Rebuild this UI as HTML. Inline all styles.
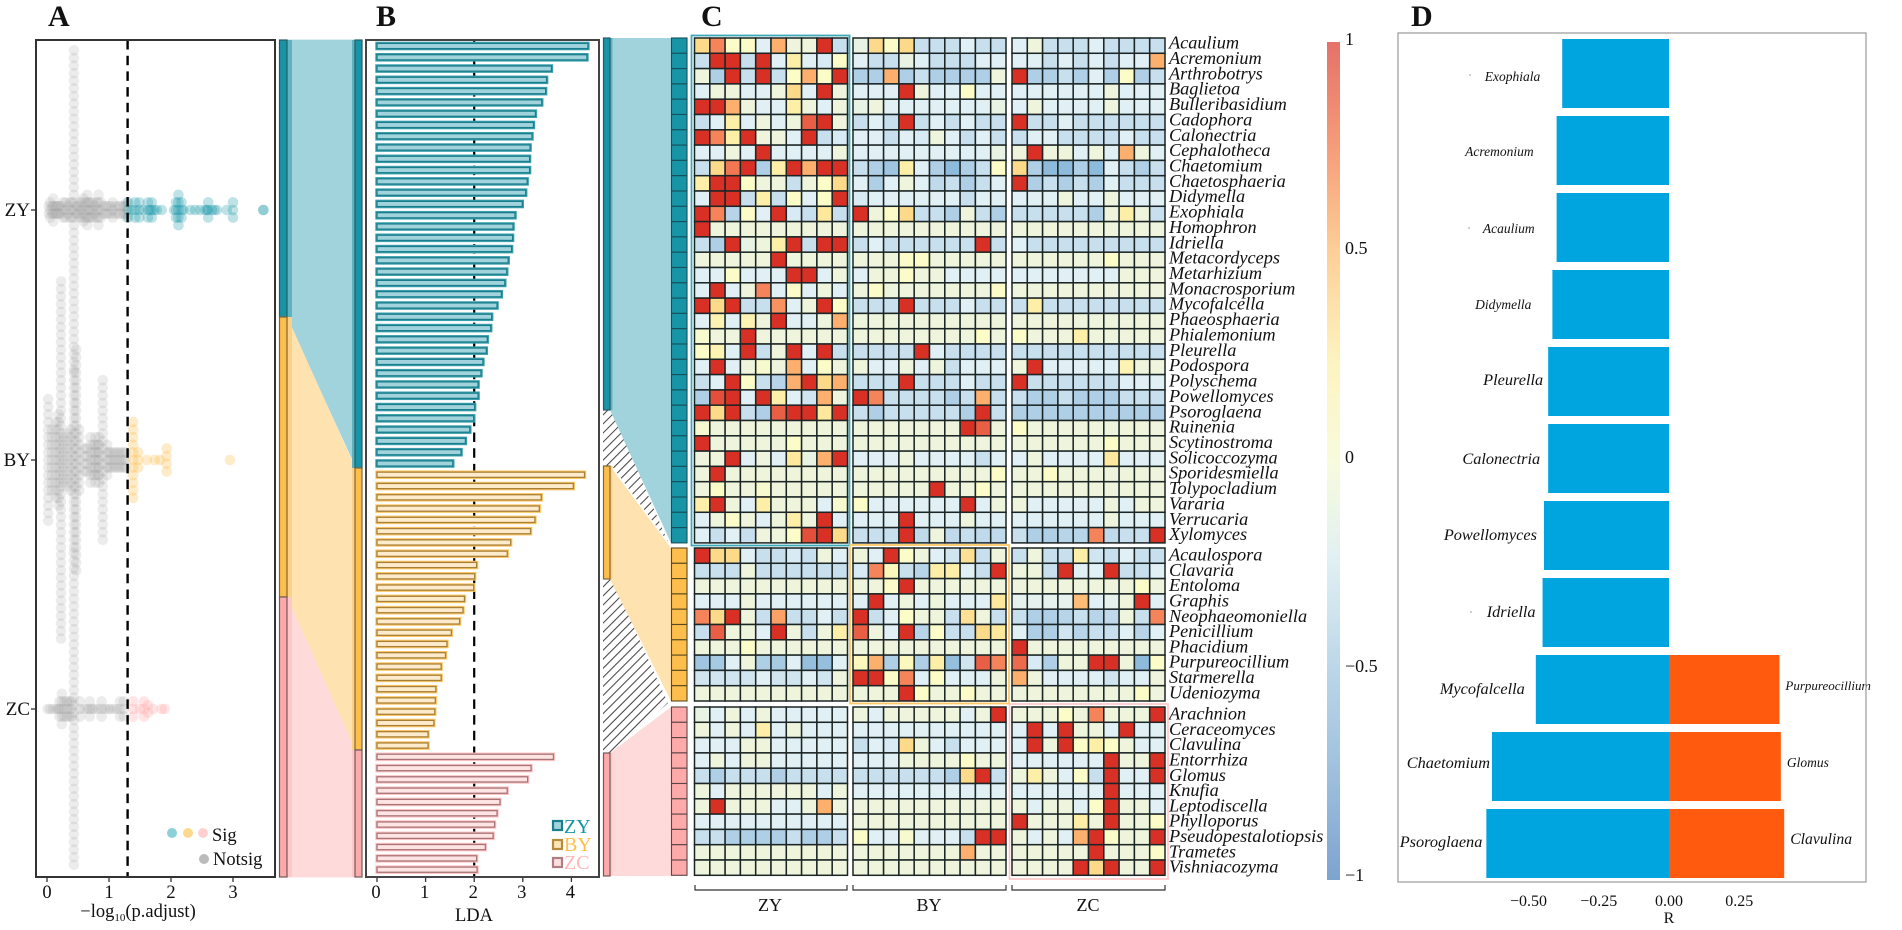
<!DOCTYPE html>
<html lang="en">
<head>
<meta charset="utf-8">
<title>Differential taxa panels</title>
<style>
html,body{margin:0;padding:0;background:#fff;width:1902px;height:930px;overflow:hidden}
svg{display:block;font-family:"Liberation Serif",serif}
text{fill:#111}
</style>
</head>
<body>
<svg id="chart" xmlns="http://www.w3.org/2000/svg" width="1902" height="930" viewBox="0 0 1902 930">
<defs>
<pattern id="hatch" width="6.4" height="6.4" patternUnits="userSpaceOnUse" patternTransform="rotate(-45)">
<line x1="0" y1="3" x2="6.4" y2="3" stroke="#3c3c3c" stroke-width="1"/>
</pattern>
<linearGradient id="colorbar-gradient" x1="0" y1="0" x2="0" y2="1">
<stop offset="0" stop-color="#E5716A"/>
<stop offset=".12" stop-color="#F59A78"/>
<stop offset=".25" stop-color="#FDCF96"/>
<stop offset=".38" stop-color="#FDF3C0"/>
<stop offset=".5" stop-color="#F8FBDC"/>
<stop offset=".62" stop-color="#E0F0F3"/>
<stop offset=".75" stop-color="#BBD6E9"/>
<stop offset=".88" stop-color="#9DBEDC"/>
<stop offset="1" stop-color="#7DA3D0"/>
</linearGradient>
</defs>

<text x="48" y="26" font-size="30" font-weight="bold">A</text>
<text x="376" y="26" font-size="30" font-weight="bold">B</text>
<text x="701" y="26" font-size="30" font-weight="bold">C</text>
<text x="1411" y="26" font-size="30" font-weight="bold">D</text>

<g>
<polygon points="287,40 355,40 355,465 287,317" fill="#A1D3DC" stroke="#A1D3DC" stroke-width=".7"/>
<polygon points="287,317 355,468 355,750 287,597" fill="#FEE2B0" stroke="#FEE2B0" stroke-width=".7"/>
<polygon points="287,597 355,750 355,877 287,877" fill="#FFDADA" stroke="#FFDADA" stroke-width=".7"/>
<rect x="287" y="40" width="5" height="277" fill="#5FB3C0"/>
<rect x="287" y="317" width="5" height="280" fill="#FDD088"/>
<rect x="287" y="597" width="5" height="280" fill="#FFC8C8"/>
<rect x="352" y="40" width="3" height="428" fill="#5FB3C0"/>
<rect x="352" y="468" width="3" height="282" fill="#FDD088"/>
<rect x="352" y="750" width="3" height="127" fill="#FFC8C8"/>
<rect x="279.5" y="40" width="7.5" height="277" fill="#1795A6" stroke="#2a5a63" stroke-width="1.2"/>
<rect x="279.5" y="317" width="7.5" height="280" fill="#FDBE4B" stroke="#7d6632" stroke-width="1.2"/>
<rect x="279.5" y="597" width="7.5" height="280" fill="#FFAAAA" stroke="#6e5a5a" stroke-width="1.2"/>
<rect x="355" y="40" width="7" height="428" fill="#1795A6" stroke="#2a5a63" stroke-width="1.2"/>
<rect x="355" y="468" width="7" height="282" fill="#FDBE4B" stroke="#7d6632" stroke-width="1.2"/>
<rect x="355" y="750" width="7" height="127" fill="#FFAAAA" stroke="#6e5a5a" stroke-width="1.2"/>
</g>

<g>
<polygon points="603,410 612,410 668,542 612,466 603,466" fill="url(#hatch)"/>
<polygon points="603,579 612,579 668,703 612,753 603,753" fill="url(#hatch)"/>
<polygon points="610,38 671,38 671,543 610,410" fill="#A1D3DC"/>
<polygon points="610,466 671,548 671,701 610,579" fill="#FEE2B0"/>
<polygon points="610,753 671,707 671,876 610,876" fill="#FFDADA"/>
<rect x="610" y="38" width="2.5" height="372" fill="#5FB3C0"/>
<rect x="610" y="466" width="2.5" height="113" fill="#FDD088"/>
<rect x="610" y="753" width="2.5" height="123" fill="#FFC8C8"/>
<rect x="603.5" y="38" width="6.5" height="372" fill="#1795A6" stroke="#2a5a63" stroke-width="1.2"/>
<rect x="603.5" y="466" width="6.5" height="113" fill="#FDBE4B" stroke="#7d6632" stroke-width="1.2"/>
<rect x="603.5" y="753" width="6.5" height="123" fill="#FFAAAA" stroke="#6e5a5a" stroke-width="1.2"/>
</g>

<g id="panel-a"></g>
<g id="panel-b"></g>
<g id="panel-c"></g>
<g id="panel-d"></g>

<rect x="36" y="40" width="239" height="837" fill="none" stroke="#333" stroke-width="2"/>
<rect x="366" y="40" width="233" height="837" fill="none" stroke="#444" stroke-width="2"/>

<g>
<circle cx="172" cy="833" r="5" fill="#8ED0D8"/>
<circle cx="188" cy="833" r="5" fill="#FDD990"/>
<circle cx="203" cy="833" r="5" fill="#FFD0D0"/>
<text x="212" y="841" font-size="18.5">Sig</text>
<circle cx="204" cy="859" r="5" fill="#BBBBBB"/>
<text x="213" y="865" font-size="18.5">Notsig</text>
</g>
<text x="138" y="917" font-size="18.5" text-anchor="middle">−log<tspan font-size="11" dy="4">10</tspan><tspan dy="-4">(p.adjust)</tspan></text>

<g>
<rect x="553" y="821" width="9" height="9" fill="#A1D3DC" stroke="#1B7E8C" stroke-width="2.2"/>
<text x="564" y="833" font-size="20" style="fill:#1795A6">ZY</text>
<rect x="553" y="840" width="9" height="9" fill="#FEE5B8" stroke="#B58B3C" stroke-width="2.2"/>
<text x="564" y="851" font-size="20" style="fill:#FDBE4B">BY</text>
<rect x="553" y="858" width="9" height="9" fill="#FFE0E0" stroke="#B07F84" stroke-width="2.2"/>
<text x="564" y="869" font-size="20" style="fill:#FFB8B8">ZC</text>
</g>
<text x="474" y="921" font-size="18.5" text-anchor="middle">LDA</text>

<g>
<path d="M695 885V890H847V885" fill="none" stroke="#333" stroke-width="1.2"/>
<path d="M853 885V890H1006V885" fill="none" stroke="#333" stroke-width="1.2"/>
<path d="M1012 885V890H1165V885" fill="none" stroke="#333" stroke-width="1.2"/>
<text x="770" y="911" font-size="18" text-anchor="middle">ZY</text>
<text x="929" y="911" font-size="18" text-anchor="middle">BY</text>
<text x="1088" y="911" font-size="18" text-anchor="middle">ZC</text>
</g>

<rect x="1327" y="42" width="13" height="838" fill="url(#colorbar-gradient)"/>

<rect x="1398" y="33" width="468" height="849" fill="none" stroke="#a0a0a0" stroke-width="1.3"/>
<circle cx="1470" cy="75" r=".7" fill="#888"/>
<circle cx="1469" cy="228" r=".7" fill="#888"/>
<circle cx="1471" cy="612" r=".7" fill="#888"/>
<text x="1669" y="923" font-size="16" text-anchor="middle">R</text>
</svg>

<script>
// ---------- Panel A data: -log10(p.adjust) values and stacked point counts ----------
const groupLabelsA = ["ZY", "BY", "ZC"];
const xTicksA = [0, 1, 2, 3];
const thresholdA = [1.3];
const zyNotsigValues = [.03,.05,.08,.1,.13,.15,.18,.2,.23,.26,.3,.34,.37,.4,.435,.47,.5,.53,.56,.59,.62,.65,.68,.71,.74,.77,.8,.83,.87,.91,.95,.99,1.03,1.06,1.1,1.15,1.18,1.23,1.26,1.28];
const zyNotsigCounts = [2,3,2,4,2,2,2,2,2,3,3,2,3,3,43,2,2,3,3,4,3,5,3,3,3,2,3,5,3,2,2,2,2,3,2,2,2,2,2,3];
const zySigValues = [1.31,1.38,1.42,1.49,1.55,1.63,1.66,1.69,1.73,1.77,1.85,2.05,2.08,2.12,2.17,2.2,2.31,2.39,2.47,2.55,2.58,2.6,2.66,2.7,2.74,2.9,3.0,3.49,3.49];
const zySigCounts = [3,1,3,3,1,3,1,3,1,1,1,1,3,5,3,1,1,1,1,1,1,3,1,1,1,1,3,1,1];
const byNotsigValues = [.02,.08,.14,.19,.226,.27,.33,.38,.435,.47,.52,.6,.65,.7,.75,.78,.82,.84,.9,.97,1.0,1.04,1.08,1.12,1.16,1.2,1.24,1.27];
const byNotsigCounts = [17,9,11,13,48,7,8,9,24,30,9,4,4,7,5,7,5,7,22,5,3,3,3,3,3,3,3,3];
const bySigValues = [1.39,1.47,1.61,1.74,1.82,1.93,2.95];
const bySigCounts = [11,3,1,1,1,4,1];
const zcNotsigValues = [.01,.05,.1,.15,.18,.2,.24,.28,.32,.36,.4,.435,.53,.6,.65,.69,.73,.77,.82,.88,.93,.98,1.02,1.08,1.13,1.18,1.24];
const zcNotsigCounts = [1,1,1,1,1,3,5,3,3,3,3,42,3,1,1,3,1,1,1,3,1,1,1,1,1,3,3];
const zcSigValues = [1.39,1.5,1.565,1.63,1.71,1.85,1.9];
const zcSigCounts = [3,1,3,2,1,1,1];

// ---------- Panel B data: LDA scores ----------
const xTicksB = [0, 1, 2, 3, 4];
const thresholdB = [2];
const ldaZY = [4.34,4.32,3.59,3.49,3.47,3.39,3.26,3.22,3.19,3.15,3.14,3.14,3.09,3.06,2.99,2.84,2.80,2.79,2.77,2.70,2.67,2.63,2.56,2.47,2.36,2.34,2.27,2.25,2.18,2.14,2.08,2.08,2.01,1.99,1.91,1.82,1.73,1.56];
const ldaBY = [4.27,4.04,3.38,3.34,3.25,3.16,2.75,2.68,2.05,2.01,1.99,1.80,1.77,1.70,1.53,1.44,1.41,1.32,1.32,1.21,1.20,1.19,1.17,1.05,1.05];
const ldaZC = [3.63,3.17,3.10,2.68,2.53,2.47,2.42,2.39,2.23,2.05,2.06];

// ---------- Panel C data: taxa and correlation values (columns ZY×10, BY×10, ZC×10) ----------
const taxaZY = ["Acaulium","Acremonium","Arthrobotrys","Baglietoa","Bulleribasidium","Cadophora","Calonectria","Cephalotheca","Chaetomium","Chaetosphaeria","Didymella","Exophiala","Homophron","Idriella","Metacordyceps","Metarhizium","Monacrosporium","Mycofalcella","Phaeosphaeria","Phialemonium","Pleurella","Podospora","Polyschema","Powellomyces","Psoroglaena","Ruinenia","Scytinostroma","Solicoccozyma","Sporidesmiella","Tolypocladium","Vararia","Verrucaria","Xylomyces"];
const taxaBY = ["Acaulospora","Clavaria","Entoloma","Graphis","Neophaeomoniella","Penicillium","Phacidium","Purpureocillium","Starmerella","Udeniozyma"];
const taxaZC = ["Arachnion","Ceraceomyces","Clavulina","Entorrhiza","Glomus","Knufia","Leptodiscella","Phylloporus","Pseudopestalotiopsis","Trametes","Vishniacozyma"];
const colorbarTicks = [1, .5, 0, -.5, -1];
const corrZY = [
[.4,.7,.1,.1,-.2,.55,-.05,-.05,1,-.35,-.1,.4,.1,.4,-.35,-.35,-.35,-.2,-.35,-.35,-.2,-.05,-.35,-.35,-.35,-.2,-.35,-.35,-.35,-.35],
[-.35,1,1,-.35,1,-.2,.25,-.2,-.25,.1,-.2,-.35,-.35,-.1,-.2,-.35,-.35,-.35,-.2,-.2,-.2,-.2,-.35,-.2,-.35,-.2,-.35,-.2,-.2,.55],
[-.05,-.5,1,-.35,1,-.35,.1,.55,.1,1,-.5,-.5,.55,-.5,-.35,-.5,-.5,-.5,-.5,-.05,1,-.5,-.5,-.35,-.5,-.2,-.5,.1,-.5,-.35],
[-.2,-.05,-.05,-.2,-.2,-.05,.4,-.2,1,-.05,-.2,-.2,-.2,1,-.05,-.2,-.2,.1,-.2,-.2,-.2,-.2,-.2,-.2,-.2,-.2,-.05,-.2,-.2,-.2],
[1,1,.55,-.05,-.2,-.2,.25,-.05,-.2,-.05,-.1,-.05,-.2,-.2,-.2,-.2,-.2,-.2,-.2,-.1,-.2,-.05,-.2,-.2,-.2,-.2,-.05,-.2,-.2,-.2],
[-.35,-.2,.25,-.2,-.05,-.2,-.05,.85,1,-.05,-.35,-.2,-.35,1,-.35,-.2,-.35,-.2,-.35,-.35,1,-.35,-.35,-.2,-.35,-.35,-.35,-.35,-.35,-.35],
[1,.7,.25,1,-.05,-.05,-.2,1,-.35,-.25,-.2,-.2,-.35,-.2,-.25,-.05,-.2,-.35,-.2,-.35,-.35,-.2,-.2,-.35,-.35,-.35,-.35,-.2,-.35,-.35],
[-.2,-.2,-.05,-.2,1,-.2,-.2,-.2,-.2,-.05,-.2,-.2,-.2,-.2,-.2,-.2,-.2,-.2,-.2,-.1,-.05,1,-.05,-.05,-.2,-.05,-.2,.55,-.05,-.2],
[-.35,.4,.75,1,-.5,.25,1,.55,1,1,-.35,-.5,-.6,.25,-.2,-.5,-.7,-.5,-.35,.1,.4,-.5,-.7,-.7,-.5,-.7,-.2,-.35,-.5,-.35],
[.25,1,1,.1,-.05,-.05,-.35,-.05,.1,.4,-.2,-.5,-.2,-.05,-.2,-.4,-.35,-.5,-.35,-.2,1,-.5,-.35,-.5,-.35,-.5,-.2,-.35,-.35,-.35],
[-.2,1,1,-.35,.25,-.35,.1,-.2,.1,1,-.25,-.2,-.2,-.2,-.2,-.2,-.2,-.35,-.2,-.2,-.2,-.2,-.2,-.05,-.2,-.2,-.05,-.2,-.2,-.2],
[1,.7,-.45,.1,-.2,1,-.25,-.35,.3,-.35,1,-.05,.1,.4,-.35,-.35,-.5,-.05,-.35,-.5,-.35,-.35,-.35,-.35,-.35,-.5,-.05,.25,-.05,-.35],
[1,-.05,-.05,-.05,-.05,-.05,-.05,-.05,-.05,-.05,-.05,-.05,-.05,-.05,-.05,-.05,-.05,-.05,-.05,-.05,-.05,-.05,-.05,-.05,-.05,-.05,-.05,-.05,-.05,-.05],
[-.35,-.5,1,-.1,-.05,.25,1,-.35,1,1,-.35,-.2,-.35,-.35,-.35,-.35,-.35,-.35,1,-.35,-.2,-.35,-.35,-.35,-.35,-.35,-.35,-.35,-.35,-.35],
[-.05,-.05,-.05,-.05,-.05,1,-.05,-.05,-.05,-.05,-.05,-.05,-.05,.1,.1,-.05,-.05,-.05,-.05,-.05,-.05,-.05,-.05,-.05,-.05,-.05,.1,-.05,-.05,-.05],
[-.2,-.2,.1,-.2,-.2,-.2,1,1,-.2,-.05,-.2,-.05,-.05,.1,-.05,-.05,-.2,-.2,-.2,-.2,-.2,-.2,-.2,-.2,-.2,-.2,-.2,-.05,-.05,-.05],
[-.2,1,-.2,-.05,.7,-.2,.1,-.2,-.05,-.2,-.05,.1,-.05,-.05,-.05,-.05,-.05,-.05,-.05,.1,-.05,-.05,-.05,-.05,-.05,-.05,-.05,-.05,-.05,-.05],
[1,.4,1,-.35,-.35,.65,-.2,-.05,1,.1,-.35,-.35,-.35,1,-.35,-.35,-.35,-.2,-.35,-.35,-.35,.25,-.35,-.35,-.35,-.35,-.35,-.35,-.35,-.35],
[-.2,.2,-.2,.2,-.05,1,-.2,-.2,-.05,.55,-.05,-.05,-.05,-.05,-.05,-.05,-.05,-.05,-.05,-.05,-.05,-.05,-.05,-.05,-.05,-.05,-.05,-.05,-.05,-.05],
[.05,-.05,-.05,1,-.05,-.05,-.05,-.05,-.05,-.05,-.05,-.05,-.05,-.05,-.05,-.05,-.05,-.05,.1,-.05,.1,-.05,-.05,-.05,.25,-.05,-.05,-.05,-.05,-.05],
[.1,.2,-.2,1,-.35,-.05,1,-.2,1,-.35,-.35,-.35,-.35,-.35,1,-.2,-.35,-.35,-.35,-.35,-.35,-.35,-.35,-.35,-.35,-.35,-.35,-.35,-.35,-.35],
[-.2,1,-.2,-.05,.05,-.05,.55,-.2,.1,-.05,-.05,-.2,-.2,-.05,-.2,-.05,-.35,-.2,-.2,-.2,-.05,1,-.2,-.2,-.2,-.2,-.2,.2,-.05,-.05],
[-.35,-.2,1,.1,-.35,-.45,.55,1,.4,.55,-.35,-.35,-.35,1,-.35,-.35,-.35,-.2,-.35,-.35,1,-.35,-.35,-.35,-.35,-.35,-.35,-.2,-.2,-.2],
[-.5,.9,1,-.2,1,.25,-.2,-.3,.55,-.05,1,.7,-.35,-.35,-.35,-.35,-.5,-.35,.55,-.35,-.35,-.5,-.5,-.35,-.5,-.5,-.5,-.35,-.35,-.35],
[1,.4,1,-.35,-.5,.85,1,1,.3,1,-.35,-.5,-.35,-.35,-.35,-.35,-.35,-.5,1,-.35,-.5,-.5,-.5,-.5,-.5,-.5,-.5,-.5,-.5,-.5],
[.05,-.05,-.05,-.05,-.05,-.05,-.05,-.05,-.05,-.05,-.05,-.05,-.05,-.05,-.05,-.05,-.05,1,.85,-.05,.1,-.05,-.05,-.05,-.05,-.05,-.05,-.05,-.05,-.05],
[1,-.05,-.05,-.05,-.05,-.05,.1,-.05,-.05,-.05,-.05,-.05,-.05,-.05,-.05,-.05,-.05,-.05,-.05,-.05,-.05,-.05,-.05,-.05,-.05,-.05,.1,-.05,-.05,-.05],
[-.05,-.05,1,-.2,-.05,-.2,.3,-.1,.55,1,-.2,-.2,-.2,-.05,-.2,-.2,-.2,-.2,-.35,-.2,-.2,-.05,-.2,-.2,-.2,-.2,.3,-.2,-.2,-.2],
[-.05,1,-.05,-.05,-.05,-.05,-.05,-.05,-.05,-.05,-.05,-.05,-.05,-.05,-.05,-.05,-.05,-.05,-.05,.1,-.05,-.05,.1,-.05,-.05,-.05,-.05,-.05,-.05,-.05],
[-.05,.1,-.05,-.05,.05,-.05,-.05,-.05,-.05,-.05,-.05,-.05,-.05,-.05,-.05,1,-.05,-.05,.1,-.05,-.05,-.05,-.05,-.05,-.05,-.05,-.05,-.05,-.05,-.05],
[.25,1,-.05,-.2,.25,-.05,-.05,-.05,-.2,.05,.1,-.2,-.2,-.2,-.2,-.2,-.2,1,-.2,-.05,-.05,-.2,-.2,-.2,-.2,-.2,-.05,-.2,-.05,-.05],
[-.2,-.05,.1,-.05,-.2,-.05,.25,-.05,1,-.2,-.2,-.2,-.2,1,-.2,-.2,-.2,-.05,-.2,-.2,-.2,-.2,-.2,-.2,-.2,-.2,-.05,-.2,-.2,-.2],
[-.2,-.35,-.2,-.35,-.05,-.05,.1,.9,1,.4,-.35,-.35,-.35,1,-.4,-.05,-.4,-.35,-.4,-.4,-.35,-.5,-.5,-.45,-.45,.7,-.4,-.35,-.35,1]
];
const corrBY = [
[1,.4,.4,-.2,-.35,-.35,-.25,-.35,-.05,-.2,-.05,-.2,1,.1,-.05,-.2,-.3,.35,-.35,-.05,-.35,-.05,-.35,-.35,.25,-.3,-.35,-.2,-.35,-.35],
[-.35,-.35,-.35,-.05,-.35,-.35,-.35,-.35,-.35,-.35,-.25,.7,.15,-.35,-.45,.25,.25,-.2,-.35,1,-.05,-.05,-.35,1,-.2,-.2,1,-.35,-.35,-.2],
[-.05,-.05,-.05,-.05,-.05,-.05,-.05,-.05,-.05,-.05,-.05,-.05,.1,1,-.05,-.05,-.05,-.05,-.05,-.05,-.05,-.05,-.05,-.05,-.05,-.05,-.05,-.05,.1,-.05],
[-.2,-.2,-.2,-.05,-.2,-.2,-.2,-.2,-.2,-.2,-.2,1,-.2,-.05,-.2,-.05,-.2,-.2,-.2,.3,-.15,-.15,-.15,-.15,.5,-.2,-.15,-.05,1,-.2],
[.7,.4,1,-.05,-.35,.6,-.35,-.35,-.2,-.35,1,-.35,-.2,.1,-.05,-.05,-.35,.35,-.05,-.35,-.35,-.5,-.5,-.45,-.35,-.45,-.4,-.05,-.35,.7],
[-.35,.85,-.05,-.05,-.2,1,-.05,-.35,-.05,.25,.85,-.05,-.2,1,-.45,.1,-.35,-.35,.4,.3,-.2,-.5,-.5,-.3,-.45,-.35,-.35,-.2,-.45,-.2],
[-.05,-.05,-.05,.1,-.05,-.05,-.05,-.05,-.05,-.05,-.05,-.05,-.05,-.05,-.05,-.05,-.05,-.05,-.05,-.05,1,-.05,-.05,-.05,-.05,-.05,-.05,-.05,-.05,-.05],
[-.6,-.55,-.2,-.05,-.5,-.55,-.2,-.65,-.65,-.2,.15,.55,-.5,.15,-.5,.25,-.65,-.3,.85,.7,.8,-.25,-.5,-.05,-.05,1,1,-.05,-.7,.1],
[-.3,-.3,-.3,-.3,-.2,-.3,-.3,-.2,-.3,-.05,1,1,.1,.7,-.2,.1,-.2,-.2,-.2,-.05,.55,-.05,-.2,-.2,-.2,-.2,-.3,-.2,-.2,-.05],
[-.05,-.05,-.05,-.05,-.05,-.05,-.05,-.05,-.05,-.05,-.05,-.05,-.05,1,.1,-.05,-.05,.1,-.05,-.05,-.05,-.05,-.05,-.05,-.05,-.05,-.05,-.05,.1,-.05]
];
const corrZC = [
[-.1,-.2,-.05,-.2,-.05,-.2,-.2,-.2,-.2,-.2,-.05,-.2,-.05,-.05,-.05,-.05,-.05,-.2,-.05,1,-.05,-.05,-.05,.1,-.05,.7,-.05,-.05,-.05,1],
[-.05,-.2,-.05,-.2,.25,-.2,-.05,-.2,-.2,-.2,-.2,-.2,-.2,-.2,-.2,-.2,-.2,-.2,-.2,-.2,-.2,1,-.2,1,-.05,-.05,-.2,1,-.2,-.2],
[-.2,-.2,-.2,-.05,-.05,-.2,-.2,-.2,-.2,-.2,-.35,-.2,-.25,.4,-.05,-.2,-.35,-.2,-.2,-.2,-.2,1,-.05,1,.1,.25,.1,-.05,-.2,-.2],
[-.2,-.05,-.2,-.05,-.05,-.2,-.2,-.2,-.2,-.2,-.2,-.2,-.2,-.05,-.05,-.05,-.05,.1,-.05,-.05,-.2,-.2,-.2,-.2,-.2,-.2,1,-.05,-.05,1],
[-.35,-.5,-.35,-.35,-.35,-.5,-.35,-.35,-.35,-.35,-.35,-.35,-.35,-.35,-.35,-.35,-.5,.4,1,-.35,-.05,.25,-.05,-.2,.1,-.35,1,-.2,-.2,1],
[-.05,-.2,-.05,-.05,-.05,-.05,-.05,-.05,-.2,-.05,-.2,-.2,-.2,-.2,-.2,-.2,-.2,-.2,-.2,-.2,-.2,-.2,-.2,-.2,-.2,-.2,1,-.2,-.2,-.2],
[-.05,1,-.05,-.05,-.05,-.2,-.2,-.05,.55,-.05,-.05,-.05,-.05,-.05,-.05,-.05,-.05,-.05,-.05,-.05,-.05,-.2,-.05,-.05,-.2,.1,1,-.05,-.05,-.2],
[-.2,-.2,-.2,-.2,-.2,-.2,-.2,-.2,-.2,-.2,-.05,-.05,-.05,-.05,-.05,-.05,-.05,-.05,-.05,-.05,1,-.05,-.05,-.05,.25,-.05,1,-.05,-.05,.1],
[-.35,-.35,-.5,-.5,-.5,-.5,-.35,-.5,-.5,-.35,.1,-.2,-.2,.05,-.2,-.2,-.2,-.35,1,1,-.05,-.2,-.05,-.2,.55,1,.1,-.05,-.05,1],
[-.05,-.05,-.05,-.05,-.05,-.05,-.05,-.05,-.05,-.05,-.05,-.05,-.05,-.05,-.05,-.05,-.05,.55,-.05,-.05,-.05,-.05,-.05,-.05,-.05,1,-.05,-.05,-.05,.1],
[-.05,-.05,-.05,-.05,-.05,-.05,-.05,-.05,-.05,-.05,-.05,-.05,-.05,-.05,-.05,-.05,-.05,-.05,-.05,-.05,-.05,-.05,-.05,-.05,1,.4,1,-.05,-.05,1]
];

// ---------- Panel D data: correlation coefficient R ----------
const corrTaxa = ["Exophiala","Acremonium","Acaulium","Didymella","Pleurella","Calonectria","Powellomyces","Idriella","Mycofalcella","Chaetomium","Psoroglaena"];
const corrNegative = [-.38,-.40,-.40,-.415,-.43,-.43,-.445,-.45,-.474,-.63,-.65];
const corrPositiveTaxa = ["Purpureocillium","Glomus","Clavulina"];
const corrPositive = [.393,.398,.41];
const xTicksD = [-.5,-.25,0,.25];

// ---------- Scales and helpers ----------
const NS = "http://www.w3.org/2000/svg";
function mk(tag, attrs, parent, txt){
  const el = document.createElementNS(NS, tag);
  for (const k in attrs) el.setAttribute(k, attrs[k]);
  if (txt !== undefined) el.textContent = txt;
  parent.appendChild(el);
  return el;
}
const xA = v => 47 + 62 * v;
const xB = v => 377 + 48.6 * v;
const xD = v => 1669 + 281 * v;
const yBar = i => 46 + 11.283 * i;
const yColorbar = v => 457 - 418 * v;
const colorStops = [[-1,[111,159,206]],[-.7,[142,186,219]],[-.5,[175,207,230]],[-.35,[200,223,238]],[-.2,[224,240,245]],[-.05,[238,245,220]],[.1,[252,252,200]],[.25,[253,239,168]],[.4,[253,217,138]],[.55,[253,175,109]],[.7,[246,132,90]],[.85,[232,95,69]],[1,[217,48,38]]];
function cellColor(v){
  v = Math.max(-1, Math.min(1, v));
  for (let i = 1; i < colorStops.length; i++){
    if (v <= colorStops[i][0]){
      const a = colorStops[i-1], b = colorStops[i];
      const t = (v - a[0]) / (b[0] - a[0]);
      const c = a[1].map((p, k) => Math.round(p + (b[1][k] - p) * t));
      return "rgb(" + c.join(",") + ")";
    }
  }
  return "rgb(217,48,38)";
}

// ---------- Panel A ----------
const panelA = document.getElementById("panel-a");
const groupYA = [210, 460, 709];
function drawDots(values, counts, groupY, fill, opacity, label){
  values.forEach((v, i) => {
    const n = counts[i];
    for (let j = 0; j < n; j++){
      const dot = mk("circle", {cx: xA(v), cy: groupY + (j - (n - 1) / 2) * 7.6, r: 5.3, fill: fill, "fill-opacity": opacity}, panelA);
      
      
    }
  });
}
drawDots(zyNotsigValues, zyNotsigCounts, groupYA[0], "#a2a2a2", .2, "zy-notsig-point");
drawDots(byNotsigValues, byNotsigCounts, groupYA[1], "#a2a2a2", .2, "by-notsig-point");
drawDots(zcNotsigValues, zcNotsigCounts, groupYA[2], "#a2a2a2", .2, "zc-notsig-point");
drawDots(zySigValues, zySigCounts, groupYA[0], "#1a97a8", .28, "zy-sig-point");
drawDots(bySigValues, bySigCounts, groupYA[1], "#fdbe4b", .3, "by-sig-point");
drawDots(zcSigValues, zcSigCounts, groupYA[2], "#ffaaaa", .3, "zc-sig-point");
thresholdA.forEach(v => {
  const line = mk("line", {x1: xA(v), x2: xA(v), y1: 40, y2: 877, stroke: "#000", "stroke-width": 2.4, "stroke-dasharray": "9.5 6.2"}, panelA);
  
  
});
groupLabelsA.forEach((g, i) => {
  const tick = mk("line", {x1: 31, x2: 36, y1: groupYA[i], y2: groupYA[i], stroke: "#333", "stroke-width": 1.3}, panelA);
  
  
  const label = mk("text", {x: 30, y: groupYA[i] + 6, "font-size": 19, "text-anchor": "end"}, panelA, g);
  
  
});
xTicksA.forEach(v => {
  const tick = mk("line", {x1: xA(v), x2: xA(v), y1: 877, y2: 882, stroke: "#333", "stroke-width": 1.3}, panelA);
  
  
  const label = mk("text", {x: xA(v), y: 898, "font-size": 18.5, "text-anchor": "middle"}, panelA, String(v));
  
  
});

// ---------- Panel B ----------
const panelB = document.getElementById("panel-b");
thresholdB.forEach(v => {
  const line = mk("line", {x1: xB(v), x2: xB(v), y1: 40, y2: 877, stroke: "#000", "stroke-width": 2.2, "stroke-dasharray": "9.5 6.2"}, panelB);
  
  
});
const barStyles = [
  {vals: ldaZY, halo: "#3AA0AE", line: "#1B7E8C", fill: "#A1D3DC", label: "lda-bar-zy"},
  {vals: ldaBY, halo: "#FDC865", line: "#A8803A", fill: "#FEEBCB", label: "lda-bar-by"},
  {vals: ldaZC, halo: "#FFC4C4", line: "#A87478", fill: "#FFE4E4", label: "lda-bar-zc"}
];
let barIndex = 0;
barStyles.forEach(s => {
  s.vals.forEach(v => {
    const y = yBar(barIndex) - 2.6;
    const w = xB(v) - xB(0);
    const halo = mk("rect", {x: xB(0), y: y, width: w, height: 5.2, fill: "none", stroke: s.halo, "stroke-width": 3.4}, panelB);
    
    
    const bar = mk("rect", {x: xB(0), y: y, width: w, height: 5.2, fill: s.fill, stroke: s.line, "stroke-width": 1.3}, panelB);
    
    
    barIndex++;
  });
});
xTicksB.forEach(v => {
  const tick = mk("line", {x1: xB(v), x2: xB(v), y1: 877, y2: 882, stroke: "#333", "stroke-width": 1.3}, panelB);
  
  
  const label = mk("text", {x: xB(v) - 1, y: 898, "font-size": 18.5, "text-anchor": "middle"}, panelB, String(v));
  
  
});

// ---------- Panel C ----------
const panelC = document.getElementById("panel-c");
const blockX = [694.5, 853, 1012];
const cellW = 15.3;
const rowSets = [
  {taxa: taxaZY, rows: corrZY, top: 38, fill: "#1795A6", stroke: "#17505a", lift: 2},
  {taxa: taxaBY, rows: corrBY, top: 548, fill: "#FDBE4B", stroke: "#5b4a20", lift: 0},
  {taxa: taxaZC, rows: corrZC, top: 707, fill: "#FFAAAA", stroke: "#5c4545", lift: 0}
];
rowSets.forEach(set => {
  set.rows.forEach((row, r) => {
    const y = set.top + r * cellW;
    const square = mk("rect", {x: 671.5, y: y, width: 15.5, height: cellW, fill: set.fill, stroke: set.stroke, "stroke-width": 1.1}, panelC);
    
    
    row.forEach((v, c) => {
      const blk = Math.floor(c / 10);
      const cell = mk("rect", {x: blockX[blk] + (c % 10) * cellW, y: y, width: cellW, height: cellW, fill: cellColor(v), stroke: "#1c2525", "stroke-width": 1.5}, panelC);
      
      
    });
    const lift = set.lift * (1 - r / set.rows.length);
    const label = mk("text", {x: 1169, y: y + 12.6 - lift, "font-size": 18.3, "font-style": "italic"}, panelC, set.taxa[r]);
    
    
  });
});
const highlightZY = mk("rect", {x: 691.5, y: 35.5, width: 158, height: 510, fill: "none", stroke: "#3AA9B8", "stroke-width": 1.8}, panelC);


const highlightBY = mk("rect", {x: 850, y: 545, width: 159, height: 158.5, fill: "none", stroke: "#FDC865", "stroke-width": 1.8}, panelC);


const highlightZC = mk("rect", {x: 1009.5, y: 704, width: 158.5, height: 175, fill: "none", stroke: "#FFC4C4", "stroke-width": 1.6}, panelC);


colorbarTicks.forEach(v => {
  const label = mk("text", {x: 1345, y: yColorbar(v) + 6, "font-size": 18}, panelC, String(v).replace("-", "−"));
  
  
});

// ---------- Panel D ----------
const panelD = document.getElementById("panel-d");
const yD = i => 39 + 77 * i;
const labelGapPx = [22,23,22,21,5,8,7,7,11,2,4];
const labelSizePx = [13.5,13.5,13.5,13.5,16.3,16.3,16.3,16.3,16.3,16.3,16.3];
const labelLiftPx = [-3,-1,-1,0,1,-1,0,0,0,3,1];
const positiveSizePx = [13,13.5,15.7];
corrNegative.forEach((v, i) => {
  const bar = mk("rect", {x: xD(v), y: yD(i), width: xD(0) - xD(v), height: 69, fill: "#00A5DF"}, panelD);
  
  
  const label = mk("text", {x: xD(v) - labelGapPx[i], y: yD(i) + 39 - labelLiftPx[i], "font-size": labelSizePx[i], "font-style": "italic", "text-anchor": "end"}, panelD, corrTaxa[i]);
  
  
});
corrPositive.forEach((v, i) => {
  const rowY = yD(corrNegative.length - corrPositive.length + i);
  const bar = mk("rect", {x: xD(0), y: rowY, width: xD(v) - xD(0), height: 69, fill: "#FF5A0E"}, panelD);
  
  
  const label = mk("text", {x: xD(v) + 6, y: rowY + 35, "font-size": positiveSizePx[i], "font-style": "italic"}, panelD, corrPositiveTaxa[i]);
  
  
});
xTicksD.forEach(v => {
  const label = mk("text", {x: xD(v), y: 906, "font-size": 16, "text-anchor": "middle"}, panelD, v.toFixed(2).replace("-", "−"));
  
  
});
</script>
</body>
</html>
